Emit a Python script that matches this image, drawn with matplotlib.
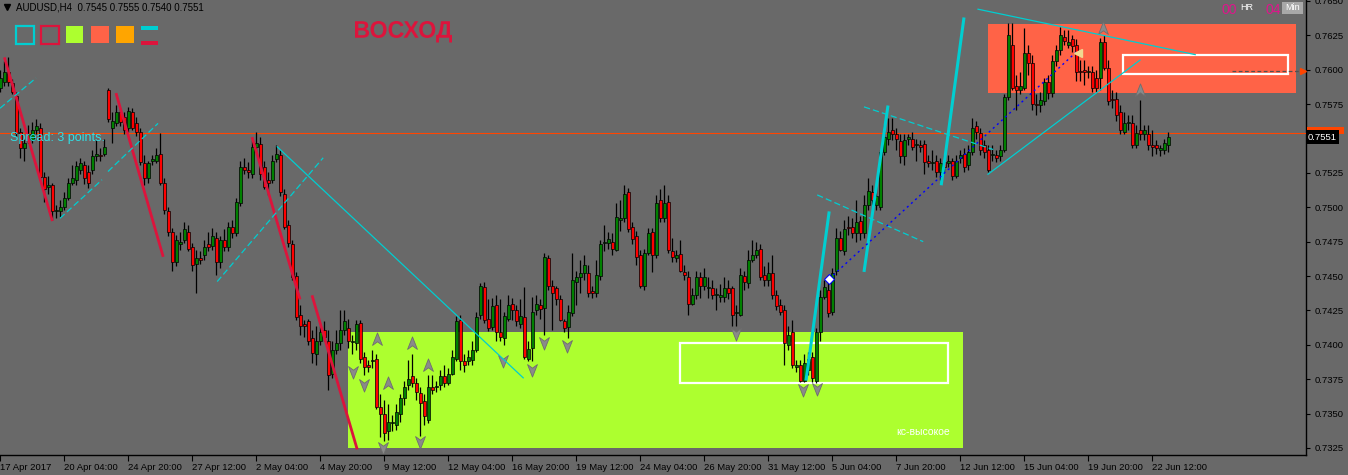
import numpy as np
import matplotlib
matplotlib.use("Agg")
import matplotlib.pyplot as plt
from matplotlib.patches import Rectangle, PathPatch
from matplotlib.path import Path
from matplotlib.textpath import TextPath
from matplotlib.font_manager import FontProperties
import matplotlib.transforms as mtransforms

# ---------------- data (prices in pips, 1 pip = 0.0001) ----------------
PIP = 1e-4
open_pips = [
    7587, 7591, 7598, 7590, 7581, 7555, 7543, 7550, 7549, 7556,
    7558, 7522, 7515, 7516, 7497, 7497, 7500, 7507, 7518, 7520,
    7527, 7531, 7526, 7527, 7537, 7538, 7539, 7585, 7558, 7561,
    7569, 7566, 7558, 7569, 7561, 7555, 7532, 7521, 7534, 7534,
    7539, 7518, 7497, 7482, 7460, 7473, 7476, 7482, 7471, 7459,
    7463, 7465, 7473, 7472, 7478, 7460, 7476, 7471, 7486, 7481,
    7503, 7529, 7527, 7524, 7544, 7546, 7529, 7520, 7520, 7535,
    7538, 7510, 7487, 7473, 7450, 7422, 7415, 7417, 7405, 7393,
    7403, 7411, 7403, 7379, 7396, 7401, 7411, 7412, 7402, 7401,
    7416, 7391, 7385, 7388, 7390, 7355, 7350, 7337, 7343, 7342,
    7350, 7361, 7371, 7377, 7372, 7365, 7359, 7345, 7369, 7369,
    7371, 7377, 7372, 7379, 7390, 7418, 7388, 7388, 7389, 7396,
    7422, 7442, 7419, 7413, 7429, 7409, 7405, 7419, 7430, 7425,
    7415, 7420, 7390, 7398, 7425, 7429, 7427, 7463, 7443, 7441,
    7433, 7417, 7413, 7423, 7446, 7449, 7452, 7452, 7439, 7438,
    7450, 7474, 7474, 7475, 7469, 7491, 7492, 7511, 7486, 7479,
    7465, 7443, 7467, 7482, 7465, 7505, 7492, 7504, 7468, 7463,
    7466, 7453, 7449, 7430, 7436, 7449, 7443, 7441, 7441, 7436,
    7435, 7435, 7441, 7441, 7423, 7422, 7450, 7445, 7462, 7465,
    7470, 7451, 7447, 7452, 7436, 7429, 7425, 7400, 7409, 7384,
    7385, 7374, 7382, 7391, 7374, 7409, 7435, 7440, 7424, 7454,
    7478, 7468, 7486, 7486, 7481, 7490, 7481, 7502, 7511, 7502,
    7500, 7540, 7550, 7556, 7553, 7548, 7537, 7550, 7550, 7545,
    7545, 7546, 7534, 7532, 7534, 7526, 7533, 7532, 7534, 7523,
    7536, 7539, 7531, 7540, 7559, 7554, 7545, 7542, 7538, 7538,
    7537, 7542, 7580, 7618, 7588, 7585, 7587, 7612, 7605, 7575,
    7574, 7577, 7591, 7583, 7606, 7614, 7624, 7618, 7622, 7618,
    7599, 7600, 7598, 7598, 7594, 7594, 7620, 7601, 7579, 7579,
    7569, 7555, 7561, 7561, 7545, 7556, 7553, 7553, 7545, 7545,
    7542, 7542, 7545,
]
high_pips = [
    7600, 7606, 7609, 7593, 7584, 7558, 7550, 7560, 7562, 7564,
    7561, 7526, 7523, 7518, 7502, 7505, 7511, 7521, 7531, 7534,
    7536, 7534, 7531, 7542, 7549, 7543, 7550, 7587, 7569, 7574,
    7572, 7569, 7573, 7572, 7566, 7558, 7538, 7534, 7538, 7543,
    7554, 7521, 7500, 7485, 7480, 7482, 7489, 7487, 7474, 7469,
    7468, 7476, 7482, 7485, 7482, 7479, 7484, 7489, 7491, 7507,
    7534, 7536, 7533, 7549, 7555, 7551, 7534, 7526, 7538, 7545,
    7542, 7513, 7491, 7476, 7453, 7429, 7418, 7419, 7411, 7414,
    7414, 7417, 7411, 7403, 7411, 7425, 7425, 7419, 7407, 7418,
    7418, 7395, 7389, 7396, 7393, 7364, 7360, 7357, 7349, 7357,
    7364, 7374, 7389, 7393, 7376, 7369, 7364, 7378, 7378, 7374,
    7382, 7385, 7383, 7396, 7421, 7422, 7393, 7396, 7403, 7424,
    7445, 7446, 7433, 7434, 7436, 7433, 7424, 7436, 7434, 7429,
    7433, 7442, 7403, 7435, 7436, 7433, 7467, 7465, 7447, 7443,
    7436, 7419, 7429, 7467, 7454, 7462, 7465, 7458, 7443, 7462,
    7476, 7487, 7482, 7481, 7503, 7505, 7516, 7514, 7489, 7483,
    7469, 7470, 7485, 7485, 7509, 7513, 7516, 7509, 7478, 7469,
    7476, 7458, 7454, 7441, 7454, 7453, 7456, 7449, 7447, 7441,
    7444, 7449, 7447, 7443, 7429, 7456, 7454, 7469, 7476, 7475,
    7473, 7457, 7460, 7465, 7440, 7433, 7429, 7414, 7418, 7389,
    7389, 7393, 7395, 7395, 7412, 7440, 7447, 7451, 7456, 7485,
    7483, 7491, 7494, 7492, 7505, 7494, 7509, 7521, 7516, 7516,
    7542, 7560, 7565, 7565, 7558, 7553, 7553, 7553, 7555, 7550,
    7549, 7549, 7538, 7542, 7538, 7536, 7538, 7538, 7536, 7538,
    7542, 7543, 7545, 7565, 7563, 7558, 7549, 7545, 7545, 7542,
    7545, 7582, 7634, 7634, 7596, 7598, 7630, 7618, 7611, 7582,
    7584, 7594, 7596, 7611, 7618, 7631, 7629, 7629, 7625, 7622,
    7607, 7607, 7603, 7603, 7600, 7623, 7625, 7607, 7585, 7584,
    7574, 7569, 7567, 7567, 7560, 7578, 7560, 7560, 7556, 7549,
    7545, 7550, 7555,
]
low_pips = [
    7584, 7588, 7588, 7582, 7551, 7536, 7534, 7547, 7547, 7553,
    7520, 7504, 7510, 7491, 7492, 7493, 7498, 7505, 7516, 7516,
    7524, 7517, 7514, 7524, 7534, 7534, 7537, 7562, 7547, 7559,
    7559, 7553, 7555, 7556, 7552, 7531, 7516, 7518, 7531, 7532,
    7516, 7495, 7479, 7454, 7457, 7469, 7474, 7468, 7454, 7438,
    7459, 7462, 7468, 7469, 7451, 7456, 7468, 7468, 7478, 7479,
    7501, 7524, 7521, 7521, 7540, 7520, 7513, 7509, 7518, 7533,
    7508, 7484, 7471, 7447, 7418, 7407, 7406, 7400, 7387, 7385,
    7400, 7403, 7367, 7376, 7393, 7396, 7407, 7398, 7393, 7396,
    7387, 7378, 7380, 7383, 7353, 7333, 7330, 7331, 7337, 7338,
    7344, 7356, 7367, 7369, 7360, 7334, 7342, 7343, 7364, 7366,
    7367, 7369, 7371, 7378, 7388, 7382, 7380, 7385, 7385, 7395,
    7419, 7416, 7410, 7411, 7403, 7403, 7400, 7417, 7418, 7414,
    7412, 7390, 7388, 7388, 7422, 7419, 7407, 7440, 7411, 7429,
    7417, 7409, 7405, 7421, 7429, 7438, 7447, 7435, 7434, 7435,
    7447, 7468, 7470, 7465, 7468, 7483, 7489, 7482, 7473, 7458,
    7441, 7440, 7465, 7453, 7463, 7489, 7489, 7467, 7460, 7460,
    7453, 7447, 7422, 7429, 7433, 7434, 7440, 7434, 7433, 7425,
    7431, 7431, 7433, 7414, 7414, 7421, 7440, 7441, 7460, 7463,
    7447, 7443, 7443, 7433, 7425, 7422, 7385, 7396, 7383, 7380,
    7373, 7373, 7378, 7373, 7372, 7403, 7433, 7420, 7422, 7451,
    7468, 7465, 7480, 7478, 7475, 7476, 7478, 7498, 7502, 7498,
    7498, 7538, 7545, 7549, 7542, 7532, 7531, 7545, 7542, 7534,
    7540, 7524, 7529, 7527, 7522, 7520, 7526, 7529, 7520, 7521,
    7532, 7526, 7527, 7538, 7550, 7538, 7536, 7526, 7534, 7533,
    7534, 7540, 7578, 7585, 7571, 7582, 7585, 7596, 7571, 7567,
    7569, 7574, 7579, 7580, 7603, 7611, 7618, 7616, 7613, 7592,
    7592, 7589, 7594, 7584, 7584, 7585, 7600, 7574, 7572, 7563,
    7553, 7553, 7556, 7543, 7543, 7549, 7549, 7542, 7537, 7539,
    7537, 7539, 7540,
]
close_pips = [
    7594, 7598, 7591, 7584, 7554, 7543, 7547, 7553, 7556, 7559,
    7522, 7513, 7516, 7497, 7498, 7500, 7507, 7518, 7521, 7530,
    7532, 7521, 7518, 7537, 7539, 7537, 7544, 7564, 7563, 7569,
    7562, 7556, 7570, 7558, 7555, 7533, 7521, 7532, 7535, 7538,
    7518, 7498, 7482, 7460, 7476, 7475, 7484, 7470, 7458, 7463,
    7462, 7471, 7471, 7479, 7460, 7476, 7471, 7486, 7481, 7504,
    7529, 7527, 7526, 7544, 7547, 7524, 7515, 7518, 7534, 7539,
    7511, 7486, 7474, 7449, 7420, 7414, 7414, 7403, 7394, 7403,
    7409, 7406, 7378, 7396, 7401, 7411, 7417, 7403, 7403, 7415,
    7390, 7384, 7384, 7389, 7355, 7350, 7336, 7344, 7344, 7351,
    7361, 7369, 7375, 7372, 7366, 7358, 7348, 7369, 7367, 7370,
    7377, 7372, 7379, 7391, 7417, 7388, 7385, 7391, 7396, 7420,
    7443, 7418, 7412, 7428, 7409, 7406, 7421, 7429, 7425, 7417,
    7421, 7391, 7397, 7424, 7430, 7426, 7464, 7443, 7438, 7433,
    7418, 7412, 7424, 7447, 7449, 7452, 7458, 7438, 7438, 7451,
    7473, 7475, 7477, 7470, 7493, 7492, 7510, 7484, 7477, 7464,
    7443, 7467, 7481, 7465, 7503, 7492, 7503, 7469, 7464, 7465,
    7454, 7451, 7430, 7436, 7449, 7443, 7449, 7442, 7436, 7437,
    7436, 7441, 7438, 7422, 7424, 7451, 7446, 7462, 7465, 7469,
    7449, 7447, 7452, 7436, 7428, 7424, 7401, 7407, 7385, 7385,
    7374, 7387, 7390, 7376, 7409, 7435, 7442, 7423, 7452, 7478,
    7469, 7484, 7485, 7481, 7489, 7481, 7502, 7512, 7505, 7508,
    7540, 7551, 7555, 7553, 7550, 7537, 7549, 7551, 7544, 7546,
    7544, 7533, 7532, 7533, 7526, 7532, 7529, 7534, 7523, 7534,
    7538, 7529, 7540, 7558, 7555, 7542, 7540, 7527, 7539, 7536,
    7542, 7580, 7625, 7587, 7585, 7588, 7612, 7605, 7575, 7574,
    7578, 7591, 7583, 7606, 7614, 7625, 7621, 7620, 7617, 7598,
    7598, 7598, 7599, 7587, 7587, 7620, 7601, 7577, 7578, 7567,
    7556, 7561, 7562, 7545, 7554, 7553, 7556, 7545, 7544, 7543,
    7543, 7547, 7551,
]
date_labels = ["17 Apr 2017", "20 Apr 04:00", "24 Apr 20:00", "27 Apr 12:00",
               "2 May 04:00", "4 May 20:00", "9 May 12:00", "12 May 04:00",
               "16 May 20:00", "19 May 12:00", "24 May 04:00", "26 May 20:00",
               "31 May 12:00", "5 Jun 04:00", "7 Jun 20:00", "12 Jun 12:00",
               "15 Jun 04:00", "19 Jun 20:00", "22 Jun 12:00"]
bars_per_label = 16
price_ticks = [0.7325, 0.7350, 0.7375, 0.7400, 0.7425, 0.7450, 0.7475, 0.7500,
               0.7525, 0.7550, 0.7575, 0.7600, 0.7625, 0.7650]
bid = 0.7551
ask = 0.7554
alert_price = 0.7599

# zones (bar index, price)
support_zone = (86.9, 240.7, 0.7325, 0.7409)
resist_zone = (246.9, 323.9, 0.7583, 0.7633)
white_boxes = [(169.9, 236.9, 0.7372, 0.7401), (280.7, 321.9, 0.7597, 0.7611)]

red_lines = [((1.0, 0.7609), (13.0, 0.7490)), ((28.9, 0.7583), (40.7, 0.7464)),
             ((62.9, 0.7551), (74.9, 0.7433)), ((77.9, 0.7436), (89.2, 0.7324))]
cyan_thick = [((201.4, 0.7374), (207.2, 0.7497)), ((215.9, 0.7453), (221.9, 0.7574)),
              ((235.2, 0.7516), (240.9, 0.7638))]
cyan_dashed = [((-0.1, 0.7572), (8.9, 0.7594)), ((14.9, 0.7492), (25.4, 0.7520)),
               ((26.9, 0.7526), (39.4, 0.7561)), ((54.2, 0.7446), (80.7, 0.7536)),
               ((204.2, 0.7509), (230.7, 0.7475)), ((215.9, 0.7573), (248.2, 0.7542))]
cyan_solid = [((69.2, 0.7544), (130.7, 0.7376)), ((246.9, 0.7524), (284.9, 0.7607)),
              ((244.4, 0.7644), (298.7, 0.7611))]
blue_dotted = [((207.2, 0.7448), (269.4, 0.7614))]

up_arrows_x = [94.2, 102.9, 106.9, 96.9, 275.7, 284.9]
up_arrows_y = [0.7404, 0.7401, 0.7385, 0.7372, 0.7630, 0.7585]
dn_arrows_x = [88.2, 90.9, 104.9, 95.7, 125.7, 132.9, 135.9, 141.7, 183.9, 200.7, 204.2]
dn_arrows_y = [0.7380, 0.7371, 0.7329, 0.7325, 0.7388, 0.7382, 0.7401, 0.7399, 0.7408, 0.7367, 0.7368]

# ---------------- figure ----------------
BG = '#696969'
W, H = 1348, 475
fig = plt.figure(figsize=(W / 100, H / 100), dpi=100, facecolor=BG)
ax_w, ax_h = 1306, 455
ax = fig.add_axes([0, (H - ax_h) / H, ax_w / W, ax_h / H], facecolor=BG)

o = np.array(open_pips) * PIP
h = np.array(high_pips) * PIP
l = np.array(low_pips) * PIP
c = np.array(close_pips) * PIP
n = len(c)
x = np.arange(n)

ax.set_xlim(-0.1, 326.4)
ax.set_ylim(0.73199, 0.76507)

# zones
ax.add_patch(Rectangle((support_zone[0], support_zone[2]), support_zone[1] - support_zone[0],
                       support_zone[3] - support_zone[2], facecolor='#ADFF2F', edgecolor='none', zorder=1))
ax.add_patch(Rectangle((resist_zone[0], resist_zone[2]), resist_zone[1] - resist_zone[0],
                       resist_zone[3] - resist_zone[2], facecolor='#FF6347', edgecolor='none', zorder=1))
for (x0, x1, y0, y1) in white_boxes:
    ax.add_patch(Rectangle((x0, y0), x1 - x0, y1 - y0, facecolor='none', edgecolor='white',
                           linewidth=1.6, zorder=2))

# fractal arrows
up_path = Path([(0, 1), (0.75, -0.9), (0, -0.35), (-0.75, -0.9), (0, 1)],
               [Path.MOVETO, Path.LINETO, Path.LINETO, Path.LINETO, Path.CLOSEPOLY])
dn_path = Path([(0, -1), (0.75, 0.9), (0, 0.35), (-0.75, 0.9), (0, -1)],
               [Path.MOVETO, Path.LINETO, Path.LINETO, Path.LINETO, Path.CLOSEPOLY])
ax.scatter(up_arrows_x, up_arrows_y, marker=up_path, s=90, facecolor='#8A8A8A',
           edgecolor='#6E6E6E', linewidths=0.6, zorder=2.5)
ax.scatter(dn_arrows_x, dn_arrows_y, marker=dn_path, s=90, facecolor='#8A8A8A',
           edgecolor='#6E6E6E', linewidths=0.6, zorder=2.5)

# ask line
ax.axhline(ask, color='#FF4500', lw=0.8, zorder=2.6)

# candles
ax.vlines(x, l, h, color='black', lw=0.9, zorder=3)
body_bottom = np.minimum(o, c)
body_h = np.abs(c - o)
cols = np.where(c > o, '#008000', np.where(c < o, '#FF0000', 'black'))
ax.bar(x, body_h, bottom=body_bottom, width=0.78, color=cols, edgecolor='black',
       linewidth=0.5, zorder=4)

# trend lines
for (p0, p1) in red_lines:
    ax.plot([p0[0], p1[0]], [p0[1], p1[1]], color='#DC143C', lw=2.0, zorder=5,
            solid_capstyle='butt')
for (p0, p1) in cyan_thick:
    ax.plot([p0[0], p1[0]], [p0[1], p1[1]], color='#00CED1', lw=2.2, zorder=5,
            solid_capstyle='butt')
for (p0, p1) in cyan_dashed:
    ax.plot([p0[0], p1[0]], [p0[1], p1[1]], color='#00CED1', lw=0.9, zorder=5,
            dashes=(5, 2.5))
for (p0, p1) in cyan_solid:
    ax.plot([p0[0], p1[0]], [p0[1], p1[1]], color='#00CED1', lw=0.9, zorder=5)
for (p0, p1) in blue_dotted:
    ax.plot([p0[0], p1[0]], [p0[1], p1[1]], color='#0000FF', lw=1.0, zorder=5,
            dashes=(1.5, 2.5))
ax.plot([blue_dotted[0][0][0]], [blue_dotted[0][0][1]], marker='D', ms=5,
        mfc='white', mec='#0000FF', mew=0.8, zorder=6)
ax.plot([blue_dotted[0][1][0]], [blue_dotted[0][1][1] - 0.0002], marker='<', ms=6,
        mfc='#F0D890', mec='#F0D890', zorder=6)

# price alert
ax.plot([308, 325], [alert_price, alert_price], color='#505050', lw=0.9,
        dashes=(3, 2), zorder=5, clip_on=False)
ax.plot([325.6], [alert_price], marker='>', ms=4.5, color='#FF4500', zorder=6, clip_on=False)

# axes styling
for s in ['left', 'top']:
    ax.spines[s].set_visible(False)
for s in ['bottom', 'right']:
    ax.spines[s].set_color('black')
    ax.spines[s].set_linewidth(1.0)
ax.yaxis.tick_right()
ax.set_yticks(price_ticks)
# the 0.7550 label is hidden behind the current-price label
ax.set_yticklabels(['' if abs(v - bid) < 0.0005 else '%.4f' % v for v in price_ticks])
ax.tick_params(axis='y', direction='out', length=3, width=0.8, pad=3, colors='black',
               labelsize=6.8)
xt = [i * bars_per_label for i in range(len(date_labels))]
ax.set_xticks(xt)
ax.set_xticklabels(date_labels)
ax.tick_params(axis='x', direction='out', length=4, width=0.8, pad=2, colors='black',
               labelsize=6.8)
for lab in ax.get_xticklabels():
    lab.set_ha('left')
for lab in ax.get_xticklabels() + ax.get_yticklabels():
    lab.set_family('Liberation Sans')

# price labels on axis: ask box (mostly hidden) and bid label
blend = mtransforms.blended_transform_factory(ax.transAxes, ax.transData)
ax.add_patch(Rectangle((1.0008, ask - 0.0001), 0.028, 0.00055, transform=blend,
                       facecolor='#FF4500', edgecolor='none', zorder=7, clip_on=False))
ax.text(1.0015, bid, '%.4f' % bid, transform=blend, fontsize=6.8, color='white',
        family='Liberation Sans', va='center', ha='left', zorder=8, clip_on=False,
        bbox=dict(boxstyle='square,pad=0.25', facecolor='black', edgecolor='none'))

# ---------------- overlay (pixel coordinates) ----------------
ov = fig.add_axes([0, 0, 1, 1], facecolor='none')
ov.set_xlim(0, W)
ov.set_ylim(H, 0)
ov.axis('off')

ov.plot([7], [6.5], marker='v', ms=4, color='black')
ov.text(16, 7.5, 'AUDUSD,H4  0.7545 0.7555 0.7540 0.7551', fontsize=7,
        family='Liberation Sans', color='black', va='center', ha='left')

ov.add_patch(Rectangle((16, 26), 18, 18, facecolor='none', edgecolor='#00CED1', lw=1.6))
ov.add_patch(Rectangle((41, 26), 18, 18, facecolor='none', edgecolor='#DC143C', lw=1.6))
ov.add_patch(Rectangle((66, 26), 17, 17, facecolor='#ADFF2F', edgecolor='none'))
ov.add_patch(Rectangle((91, 26), 18, 17, facecolor='#FF6347', edgecolor='none'))
ov.add_patch(Rectangle((116, 26), 18, 17, facecolor='#FFA500', edgecolor='none'))
ov.add_patch(Rectangle((141, 26), 17, 3.5, facecolor='#00CED1', edgecolor='none'))
ov.add_patch(Rectangle((141, 41), 17, 4, facecolor='#DC143C', edgecolor='none'))

# title word drawn as a (narrow, tall) text path
tp = TextPath((0, 0), 'ВОСХОД', size=20,
              prop=FontProperties(family='Liberation Sans', weight='bold'))
bb = tp.get_extents()
sx = 97.0 / bb.width
sy = 21.5 / bb.height
tr = mtransforms.Affine2D().translate(-bb.x0, -bb.y0).scale(sx, -sy).translate(355, 42.5)
ov.add_patch(PathPatch(tr.transform_path(tp), facecolor='#DC143C', edgecolor='none'))

ov.text(10, 138, 'Spread: 3 points.', fontsize=9, family='Liberation Sans',
        color='#30E0E6', ha='left', va='center')
ov.text(950, 432, 'кс-высокое', fontsize=7.5, family='Liberation Sans',
        color='white', ha='right', va='center')

ov.text(1221, 10, '00', fontsize=10, family='Liberation Sans', color='#E0148C',
        ha='left', va='center')
ov.text(1240, 7, 'HR', fontsize=6.5, family='Liberation Sans', color='white',
        ha='left', va='center')
ov.text(1265, 10, '04', fontsize=10, family='Liberation Sans', color='#E0148C',
        ha='left', va='center')
ov.add_patch(Rectangle((1282, 2), 21, 12, facecolor='#A8A8A8', edgecolor='none'))
ov.text(1292.5, 7.5, 'Min', fontsize=6.5, family='Liberation Sans', color='white',
        ha='center', va='center')

fig.savefig('out.png', dpi=100, facecolor=BG)
